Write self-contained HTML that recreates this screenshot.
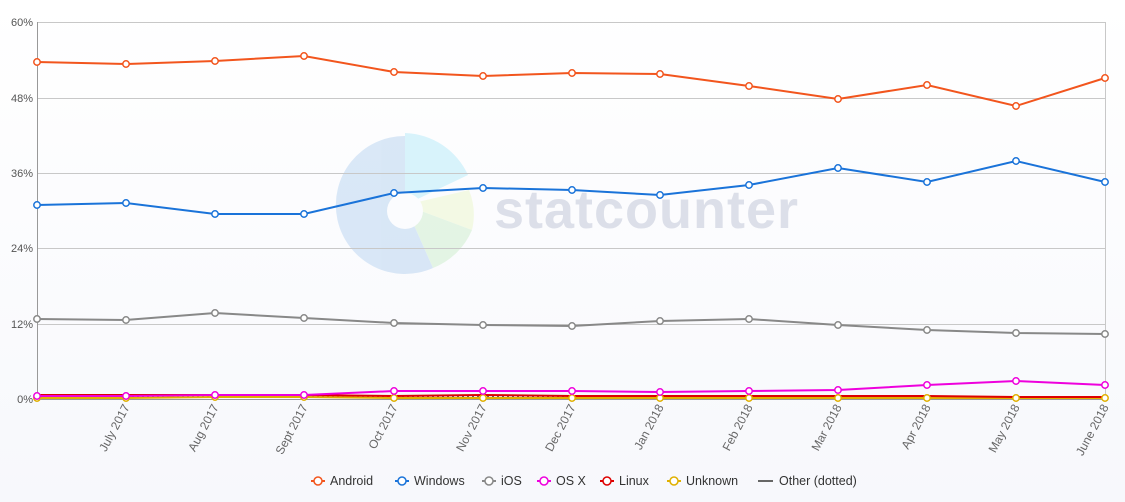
<!DOCTYPE html>
<html><head><meta charset="utf-8"><style>
html,body{margin:0;padding:0;width:1125px;height:502px;overflow:hidden;background:linear-gradient(#ffffff,#f7f8fc);font-family:"Liberation Sans",sans-serif}
</style></head><body>
<svg width="1125" height="502" xmlns="http://www.w3.org/2000/svg" font-family="Liberation Sans, sans-serif">
<defs>
<g id="xs"><circle cx="37" cy="0" r="3.2"/><circle cx="126" cy="0" r="3.2"/></g>
</defs>
<g opacity="0.75">
<path d="M405,205 L405,133 A72,72 0 0 1 468,175 Z" fill="#ccf0fb"/>
<path d="M405,205 L469,190 A66,66 0 0 1 472,230 Z" fill="#f1f8dc"/>
<path d="M405,205 L472,230 A70,70 0 0 1 433,268 Z" fill="#dcf2dc"/>
<path d="M405,205 L433,268 A69,69 0 1 1 405,136 Z" fill="#cde0f4"/>
<circle cx="405" cy="211" r="18" fill="#fbfcfe"/>
</g>
<text x="494" y="228" font-size="54" font-weight="bold" fill="#dcdfe9" letter-spacing="1">statcounter</text>
<g stroke="#c8c8c8" stroke-width="1">
<line x1="37" y1="22.5" x2="1105" y2="22.5"/><line x1="37" y1="98.5" x2="1105" y2="98.5"/>
<line x1="37" y1="173.5" x2="1105" y2="173.5"/><line x1="37" y1="248.5" x2="1105" y2="248.5"/>
<line x1="37" y1="324.5" x2="1105" y2="324.5"/>
<line x1="1105.5" y1="22" x2="1105.5" y2="399"/>
</g>
<line x1="37.5" y1="22" x2="37.5" y2="399" stroke="#999"/>
<line x1="37" y1="399.5" x2="1105" y2="399.5" stroke="#999"/>
<g font-size="11" fill="#555" text-anchor="end">
<text x="33" y="26">60%</text><text x="33" y="102">48%</text><text x="33" y="177">36%</text>
<text x="33" y="252">24%</text><text x="33" y="328">12%</text><text x="33" y="403">0%</text>
</g>
<g font-size="12" fill="#666" text-anchor="end">
<text transform="translate(130,407) rotate(-62)">July 2017</text>
<text transform="translate(219,407) rotate(-62)">Aug 2017</text>
<text transform="translate(308,407) rotate(-62)">Sept 2017</text>
<text transform="translate(398,407) rotate(-62)">Oct 2017</text>
<text transform="translate(487,407) rotate(-62)">Nov 2017</text>
<text transform="translate(576,407) rotate(-62)">Dec 2017</text>
<text transform="translate(664,407) rotate(-62)">Jan 2018</text>
<text transform="translate(753,407) rotate(-62)">Feb 2018</text>
<text transform="translate(842,407) rotate(-62)">Mar 2018</text>
<text transform="translate(931,407) rotate(-62)">Apr 2018</text>
<text transform="translate(1020,407) rotate(-62)">May 2018</text>
<text transform="translate(1109,407) rotate(-62)">June 2018</text>
</g>
<g fill="none" stroke-width="2">
<polyline points="37,397 1105,397" stroke="#666" stroke-dasharray="2,3"/>
<polyline points="37,398 126,398 215,397 304,397 394,398 483,398 572,398 660,398 749,398 838,398 927,398 1016,398 1105,398" stroke="#e0b000"/>
<polyline points="37,395 126,395 215,395 304,395 394,396 483,395 572,396 660,396 749,396 838,396 927,396 1016,397 1105,397" stroke="#d00"/>
<polyline points="37,396 126,396 215,395 304,395 394,391 483,391 572,391 660,392 749,391 838,390 927,385 1016,381 1105,385" stroke="#e0d"/>
<polyline points="37,319 126,320 215,313 304,318 394,323 483,325 572,326 660,321 749,319 838,325 927,330 1016,333 1105,334" stroke="#888"/>
<polyline points="37,205 126,203 215,214 304,214 394,193 483,188 572,190 660,195 749,185 838,168 927,182 1016,161 1105,182" stroke="#1a73d9"/>
<polyline points="37,62 126,64 215,61 304,56 394,72 483,76 572,73 660,74 749,86 838,99 927,85 1016,106 1105,78" stroke="#f2551d"/>
</g>
<g fill="#fff" stroke-width="1.5">
<g stroke="#e0b000"><circle cx="37" cy="398" r="3.2"/><circle cx="126" cy="398" r="3.2"/><circle cx="215" cy="397" r="3.2"/><circle cx="304" cy="397" r="3.2"/><circle cx="394" cy="398" r="3.2"/><circle cx="483" cy="398" r="3.2"/><circle cx="572" cy="398" r="3.2"/><circle cx="660" cy="398" r="3.2"/><circle cx="749" cy="398" r="3.2"/><circle cx="838" cy="398" r="3.2"/><circle cx="927" cy="398" r="3.2"/><circle cx="1016" cy="398" r="3.2"/><circle cx="1105" cy="398" r="3.2"/></g>
<g stroke="#e0d"><circle cx="37" cy="396" r="3.2"/><circle cx="126" cy="396" r="3.2"/><circle cx="215" cy="395" r="3.2"/><circle cx="304" cy="395" r="3.2"/><circle cx="394" cy="391" r="3.2"/><circle cx="483" cy="391" r="3.2"/><circle cx="572" cy="391" r="3.2"/><circle cx="660" cy="392" r="3.2"/><circle cx="749" cy="391" r="3.2"/><circle cx="838" cy="390" r="3.2"/><circle cx="927" cy="385" r="3.2"/><circle cx="1016" cy="381" r="3.2"/><circle cx="1105" cy="385" r="3.2"/></g>
<g stroke="#888"><circle cx="37" cy="319" r="3.2"/><circle cx="126" cy="320" r="3.2"/><circle cx="215" cy="313" r="3.2"/><circle cx="304" cy="318" r="3.2"/><circle cx="394" cy="323" r="3.2"/><circle cx="483" cy="325" r="3.2"/><circle cx="572" cy="326" r="3.2"/><circle cx="660" cy="321" r="3.2"/><circle cx="749" cy="319" r="3.2"/><circle cx="838" cy="325" r="3.2"/><circle cx="927" cy="330" r="3.2"/><circle cx="1016" cy="333" r="3.2"/><circle cx="1105" cy="334" r="3.2"/></g>
<g stroke="#1a73d9"><circle cx="37" cy="205" r="3.2"/><circle cx="126" cy="203" r="3.2"/><circle cx="215" cy="214" r="3.2"/><circle cx="304" cy="214" r="3.2"/><circle cx="394" cy="193" r="3.2"/><circle cx="483" cy="188" r="3.2"/><circle cx="572" cy="190" r="3.2"/><circle cx="660" cy="195" r="3.2"/><circle cx="749" cy="185" r="3.2"/><circle cx="838" cy="168" r="3.2"/><circle cx="927" cy="182" r="3.2"/><circle cx="1016" cy="161" r="3.2"/><circle cx="1105" cy="182" r="3.2"/></g>
<g stroke="#f2551d"><circle cx="37" cy="62" r="3.2"/><circle cx="126" cy="64" r="3.2"/><circle cx="215" cy="61" r="3.2"/><circle cx="304" cy="56" r="3.2"/><circle cx="394" cy="72" r="3.2"/><circle cx="483" cy="76" r="3.2"/><circle cx="572" cy="73" r="3.2"/><circle cx="660" cy="74" r="3.2"/><circle cx="749" cy="86" r="3.2"/><circle cx="838" cy="99" r="3.2"/><circle cx="927" cy="85" r="3.2"/><circle cx="1016" cy="106" r="3.2"/><circle cx="1105" cy="78" r="3.2"/></g>
</g>
<g font-size="12.5" fill="#333">
<line x1="311" y1="481" x2="325" y2="481" stroke="#f2551d" stroke-width="2"/><circle cx="318" cy="481" r="4" fill="#fff" stroke="#f2551d" stroke-width="1.5"/><text x="330" y="485">Android</text>
<line x1="395" y1="481" x2="409" y2="481" stroke="#1a73d9" stroke-width="2"/><circle cx="402" cy="481" r="4" fill="#fff" stroke="#1a73d9" stroke-width="1.5"/><text x="414" y="485">Windows</text>
<line x1="482" y1="481" x2="496" y2="481" stroke="#888" stroke-width="2"/><circle cx="489" cy="481" r="4" fill="#fff" stroke="#888" stroke-width="1.5"/><text x="501" y="485">iOS</text>
<line x1="537" y1="481" x2="551" y2="481" stroke="#e0d" stroke-width="2"/><circle cx="544" cy="481" r="4" fill="#fff" stroke="#e0d" stroke-width="1.5"/><text x="556" y="485">OS X</text>
<line x1="600" y1="481" x2="614" y2="481" stroke="#d00" stroke-width="2"/><circle cx="607" cy="481" r="4" fill="#fff" stroke="#d00" stroke-width="1.5"/><text x="619" y="485">Linux</text>
<line x1="667" y1="481" x2="681" y2="481" stroke="#e0b000" stroke-width="2"/><circle cx="674" cy="481" r="4" fill="#fff" stroke="#e0b000" stroke-width="1.5"/><text x="686" y="485">Unknown</text>
<line x1="758" y1="481" x2="773" y2="481" stroke="#666" stroke-width="2"/><text x="779" y="485">Other (dotted)</text>
</g>
</svg>
</body></html>
